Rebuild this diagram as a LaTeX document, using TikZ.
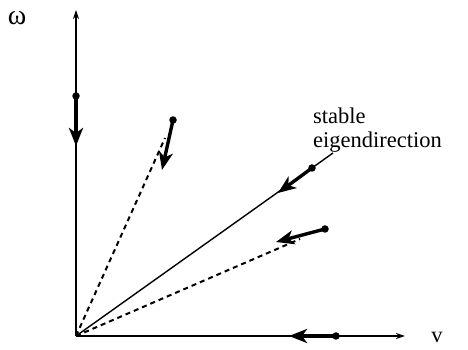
\documentclass[tikz,border=0pt]{standalone}
\usepackage{fontspec}
\setmainfont{Liberation Serif}
\usetikzlibrary{arrows.meta}
\begin{document}
\begin{tikzpicture}[x=1pt,y=1pt,
  axis/.style={line width=1.4pt,-{Stealth[length=9pt,width=6pt]}},
  thin/.style={line width=1.4pt},
  dsh/.style={line width=2pt,dash pattern=on 5pt off 4pt},
  flow/.style={line width=3.4pt,-{Stealth[length=18pt,width=14pt,inset=5pt]}},
  dot/.style={circle,fill=black,inner sep=0pt,minimum size=7.5pt},
  lbl/.style={font=\fontsize{22.5}{24.5}\selectfont,inner sep=0pt}]
\useasboundingbox (0,0) rectangle (468,350);
\coordinate (O) at (76,14);
\coordinate (ytop) at (76,340);
\coordinate (xend) at (405,14);
\coordinate (d1) at (165,212);
\coordinate (s) at (333,197);
\coordinate (d2) at (300,111);
% axes
\draw[axis] (O) -- (ytop);
\draw[axis] (O) -- (xend);
\node[lbl,font=\fontsize{28}{28}\selectfont] (w) at (17,332) {ω};
\node[lbl] (v) at (437,13) {v};
% lines
\draw[dsh] (O) -- (d1);
\draw[thin] (O) -- (s);
\draw[dsh] (O) -- (d2);
% dots and flows
\node[dot] (p1) at (76,254) {};
\coordinate (t1) at (76,204);
\draw[flow] (p1.center) -- (t1);
\node[dot] (p2) at (173,230) {};
\coordinate (t2) at (162,180);
\draw[flow] (p2.center) -- (t2);
\node[dot] (p3) at (312,182) {};
\coordinate (t3) at (278,157);
\draw[flow] (p3.center) -- (t3);
\node[dot] (p4) at (325,121) {};
\coordinate (t4) at (276,108);
\draw[flow] (p4.center) -- (t4);
\node[dot] (p5) at (336,14) {};
\coordinate (t5) at (289,14);
\draw[flow] (p5.center) -- (t5);
% label
\node[lbl,anchor=west,align=left] (lab) at (313,220) {stable\\eigendirection};
\end{tikzpicture}
\end{document}
